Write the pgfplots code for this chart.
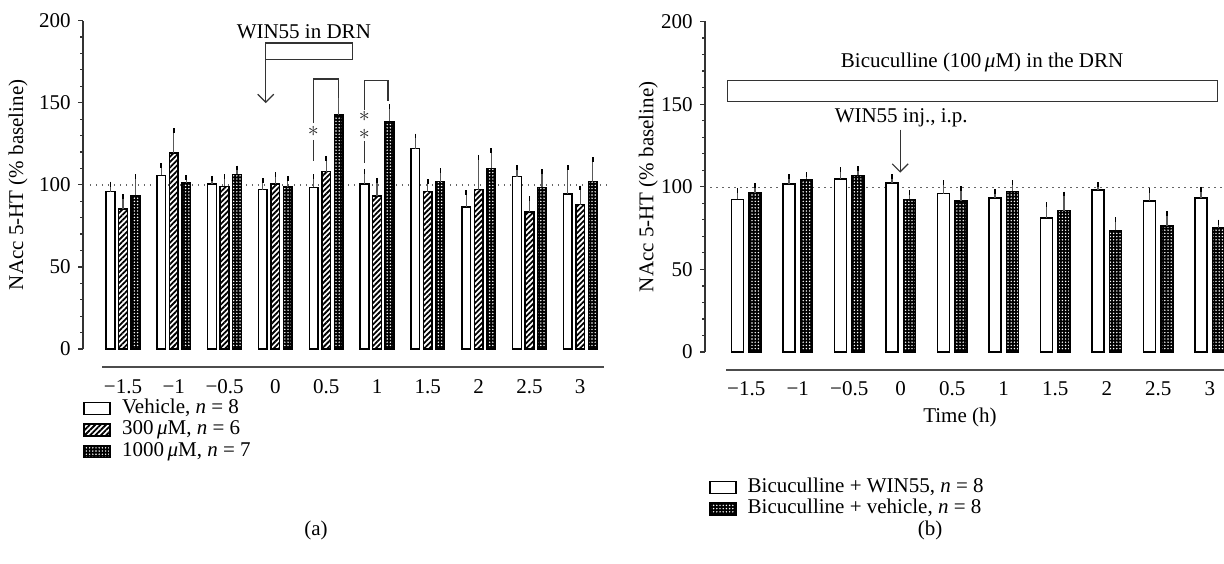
\documentclass[border=0pt]{standalone}
\usepackage{fontspec}
\setmainfont{Liberation Serif}
\usepackage{pgfplots}
\usepackage{pgfplotstable}
\pgfplotsset{compat=1.18}
\usetikzlibrary{patterns.meta, arrows.meta}

\pgfplotstableread{
x y e
0 95.9 4.5
1 105.7 5.9
2 100.6 3.3
3 97.0 5.6
4 98.4 6.5
5 100.6 7.7
6 122.0 7.7
7 86.6 8.7
8 105.0 5.3
9 94.5 15.8
}\vehA
\pgfplotstableread{
x y e
0 85.2 7.7
1 119.3 13.8
2 99.0 6.1
3 100.6 5.7
4 108.1 8.0
5 93.3 9.5
6 95.9 6.1
7 97.0 19.7
8 83.4 8.1
9 87.9 10.1
}\lowA
\pgfplotstableread{
x y e
0 93.5 11.6
1 101.4 3.1
2 106.3 3.9
3 98.6 5.3
4 142.5 12.8
5 138.6 9.2
6 102.0 6.7
7 110.0 10.7
8 98.4 9.7
9 102.0 13.2
}\highA
\pgfplotstableread{
x y e
0 92.3 5.5
1 101.8 4.2
2 104.6 5.9
3 102.4 3.6
4 95.8 6.6
5 93.3 3.7
6 81.0 8.1
7 98.0 3.4
8 91.3 6.3
9 93.3 5.1
}\winB
\pgfplotstableread{
x y e
0 96.4 4.4
1 104.4 2.9
2 106.9 4.0
3 92.3 4.1
4 91.5 7.3
5 97.2 5.2
6 85.5 10.1
7 73.6 6.4
8 76.4 7.3
9 75.2 3.4
}\vehB

\tikzset{
  whitebar/.style={draw=black, line width=0.75pt, fill=white},
  hatchbar/.style={draw=black, line width=0.75pt, pattern={Lines[angle=45,distance=1.9pt,line width=0.9pt]}, pattern color=black},
  dotbar/.style={draw=black, line width=0.75pt, fill=black, postaction={pattern={Dots[distance=1.6pt,radius=0.4pt]}, pattern color=white}},
  annot/.style={line width=0.6pt, black!80},
  refline/.style={black!60, line width=0.7pt, dash pattern=on 0.7pt off 2.3pt},
  baseline/.style={line width=0.9pt, black!70},
  star/.style={inner sep=0pt, black!85, font=\fontsize{10.5}{8.6}\selectfont, align=center},
}

\pgfplotsset{
  panel/.style={
    scale only axis, clip=false,
    axis y line*=left, axis x line*=bottom,
    x axis line style={draw=none}, xtick style={draw=none},
    ymin=0, ymax=200, ytick={0,50,...,200}, minor y tick num=4,
    tick align=outside, major tick length=2.5pt, minor tick length=1.5pt,
    y axis line style={line width=0.6pt, black!80},
    ytick style={line width=0.6pt, black!80},
    /pgf/number format/assume math mode=true,
    xtick={0,...,9},
    xticklabels={−1.5,−1,−0.5,0,0.5,1,1.5,2,2.5,3},
    ybar,
    legend cell align=left,
    legend image code/.code={\draw[##1] (0pt,-3pt) rectangle (13pt,3pt);},
    ylabel={NAcc 5-HT (\% baseline)},
  },
  errs/.style={error bars/.cd, y dir=plus, y explicit,
    error bar style={line width=0.6pt, black!65},
    error mark options={line width=0.8pt, mark size=1.2pt, black}},
}

\begin{document}
\fontsize{10.5}{12.6}\selectfont
\begin{tikzpicture}
\path[use as bounding box] (0,0) rectangle (612pt,281.5pt);

% ---------- panel (a)
\begin{axis}[panel,
  at={(41.5pt,107pt)}, anchor=south west,
  width=261.3pt, height=164.2pt,
  xmin=-0.787, xmax=9.5,
  bar width=4.35pt,
  xticklabel style={yshift=-9pt},
  ylabel style={at={(axis description cs:-0.1244,0.5)}, anchor=center},
  legend style={draw=none, fill=none, inner sep=0pt, column sep=5pt, row sep=0pt,
    at={(axis description cs:0.0,-0.1469)}, anchor=north west,
    nodes={inner sep=0.6pt, text height=7.3pt, text depth=2.25pt}},
]
\draw[refline] (axis cs:-0.65,100) -- (axis cs:9.59,100);
\addplot[whitebar, bar shift=-6.25pt, errs] table[x=x,y=y,y error=e] {\vehA};
\addlegendentry{Vehicle, \textit{n} = 8}
\addplot[hatchbar, bar shift=0pt, errs] table[x=x,y=y,y error=e] {\lowA};
\addlegendentry{300\,\textit{μ}M, \textit{n} = 6}
\addplot[dotbar, bar shift=6.25pt, errs] table[x=x,y=y,y error=e] {\highA};
\addlegendentry{1000\,\textit{μ}M, \textit{n} = 7}

\draw[baseline] ([yshift=-8.85pt]axis cs:-0.41,0) -- ([yshift=-8.85pt]axis cs:9.47,0);

\draw[annot] (axis cs:2.81,176.2) rectangle (axis cs:4.51,186.4);
\node at (axis cs:3.56,193.5) {WIN55 in DRN};
\draw[annot, -{Straight Barb[length=4pt,width=8pt]}] (axis cs:2.81,176.2) -- (axis cs:2.81,149.8);

\draw[annot] (axis cs:3.746,137.6) -- (axis cs:3.746,164.4) -- (axis cs:4.238,164.4) -- (axis cs:4.238,152.9);
\draw[annot] (axis cs:3.746,127.4) -- (axis cs:3.746,114.2);
\node[star] at (axis cs:3.746,132.5) {$\ast$};

\draw[annot] (axis cs:4.75,145.5) -- (axis cs:4.75,163.4) -- (axis cs:5.217,163.4) -- (axis cs:5.217,150.8);
\draw[annot] (axis cs:4.75,126.8) -- (axis cs:4.75,113.2);
\node[star] at (axis cs:4.75,136.2) {$\ast$\\$\ast$};
\end{axis}

% ---------- panel (b)
\begin{axis}[panel,
  at={(352.5pt,105.5pt)}, anchor=south west,
  width=270.4pt, height=165.25pt,
  xmin=-0.8, xmax=9.7,
  bar width=6pt,
  xticklabel style={yshift=-8.5pt},
  ylabel style={at={(axis description cs:-0.105,0.5)}, anchor=center},
  legend style={draw=none, fill=none, inner sep=0pt, column sep=5pt, row sep=0pt,
    at={(axis description cs:0.0067,-0.376)}, anchor=north west,
    nodes={inner sep=0.6pt, text height=7.3pt, text depth=2.25pt}},
]
\draw[refline] (axis cs:-0.7,99.4) -- (axis cs:10,99.4);
\addplot[whitebar, bar shift=-4.4pt, errs] table[x=x,y=y,y error=e] {\winB};
\addlegendentry{Bicuculline + WIN55, \textit{n} = 8}
\addplot[dotbar, bar shift=4.4pt, errs] table[x=x,y=y,y error=e] {\vehB};
\addlegendentry{Bicuculline + vehicle, \textit{n} = 8}

\draw[baseline] ([yshift=-9pt]axis cs:-0.39,0) -- ([yshift=-9pt]axis cs:10,0);
\node at ([yshift=-32.5pt]axis cs:4.15,0) {Time (h)};

\draw[annot] (axis cs:-0.36,151.5) rectangle (axis cs:9.15,164.2);
\node at (axis cs:4.58,175) {Bicuculline (100\,\textit{μ}M) in the DRN};
\node at (axis cs:3.01,141.6) {WIN55 inj., i.p.};
\draw[annot, -{Straight Barb[length=4pt,width=8pt]}] (axis cs:2.99,134.5) -- (axis cs:2.99,108.5);
\end{axis}

\node at (158pt,16.5pt) {(a)};
\node at (465pt,16.5pt) {(b)};
\end{tikzpicture}
\end{document}
